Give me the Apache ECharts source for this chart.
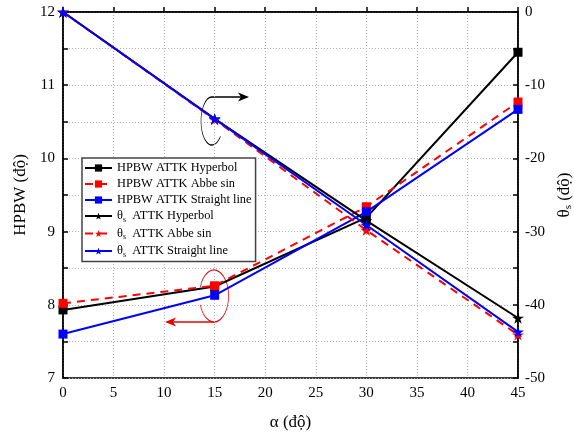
<!DOCTYPE html>
<html>
<head>
<meta charset="utf-8">
<script src="https://cdn.jsdelivr.net/npm/echarts@6/dist/echarts.min.js"></script>
<style>
  html, body { margin: 0; padding: 0; background: #fff; }
  #chart { width: 574px; height: 438px; }
</style>
</head>
<body>
<div id="chart"></div>
<script>
// góc alpha (độ)
var alpha = [0, 15, 30, 45];
// HPBW (trục trái)
var hpbwHyperbol = [7.93, 8.25, 9.19, 11.45];
var hpbwAbbe = [8.02, 8.26, 9.34, 10.77];
var hpbwStraight = [7.6, 8.13, 9.27, 10.67];
// theta_s (trục phải)
var thetaHyperbol = [0, -14.6, -28.5, -41.8];
var thetaAbbe = [0, -14.7, -29.8, -44.1];
var thetaStraight = [0, -14.6, -29.1, -43.7];

var legendNames = {
  'hH': 'HPBW ATTK Hyperbol',
  'hA': 'HPBW ATTK Abbe sin',
  'hS': 'HPBW ATTK Straight line',
  'tH': '{th|θ}{sub|s}{th|  ATTK Hyperbol}',
  'tA': '{th|θ}{sub|s}{th|  ATTK Abbe sin}',
  'tS': '{th|θ}{sub|s}{th|  ATTK Straight line}'
};

var star = 'path://M0,-1L0.223,-0.307L0.951,-0.309L0.361,0.117L0.588,0.809L0,0.38L-0.588,0.809L-0.361,0.117L-0.951,-0.309L-0.223,-0.307Z';
var font = 'Liberation Serif';

function pairs(ys) {
  var out = [];
  for (var i = 0; i < alpha.length; i++) out.push([alpha[i], ys[i]]);
  return out;
}

function mk(name, ys, color, dashed, symbol, yIdx) {
  return {
    name: name,
    type: 'line',
    yAxisIndex: yIdx,
    data: pairs(ys),
    symbol: symbol,
    symbolSize: symbol === 'rect' ? 9 : 12,
    symbolKeepAspect: true,
    showSymbol: true,
    lineStyle: { color: color, width: 2, type: dashed ? [8, 6] : 'solid' },
    itemStyle: { color: color },
    emphasis: { disabled: true },
    animation: false
  };
}

var myChart = echarts.init(document.getElementById('chart'));

var splitDotted = { show: true, lineStyle: { color: '#b0b0b0', type: [1, 2], width: 1 } };

var option = {
  backgroundColor: '#fff',
  animation: false,
  grid: {
    left: 63, right: 56, top: 12, bottom: 60,
    outerBoundsMode: 'none',
    show: true, borderColor: '#000', borderWidth: 1.5, backgroundColor: 'transparent'
  },
  legend: {
    orient: 'vertical',
    left: 82, top: 158,
    padding: [4, 4, 3, 2],
    itemGap: 4,
    itemWidth: 27, itemHeight: 9,
    borderColor: '#444', borderWidth: 1.5,
    backgroundColor: '#fff',
    data: ['hH', 'hA', 'hS', 'tH', 'tA', 'tS'],
    formatter: function (n) { return legendNames[n]; },
    textStyle: {
      fontFamily: font, fontSize: 12.4, color: '#000',
      rich: {
        th: { fontFamily: font, fontSize: 12.4, color: '#000' },
        sub: { fontFamily: font, fontSize: 8, color: '#000', padding: [7, 0, 0, 0] }
      }
    }
  },
  xAxis: {
    type: 'value',
    min: 0, max: 45, interval: 5,
    name: 'α (độ)', nameLocation: 'middle', nameGap: 36,
    nameTextStyle: { fontFamily: font, fontSize: 17, color: '#000' },
    axisLine: { lineStyle: { color: '#000', width: 1.5 } },
    axisTick: { inside: true, length: 5, lineStyle: { color: '#000', width: 1.5 } },
    axisLabel: { fontFamily: font, fontSize: 15, color: '#000', margin: 8 },
    splitLine: splitDotted
  },
  yAxis: [{
    type: 'value',
    min: 7, max: 12, interval: 1,
    name: 'HPBW (độ)', nameLocation: 'middle', nameGap: 28,
    nameTextStyle: { fontFamily: font, fontSize: 17, color: '#000' },
    axisLine: { show: true, lineStyle: { color: '#000', width: 1.5 } },
    axisTick: { inside: true, length: 5, lineStyle: { color: '#000', width: 1.5 } },
    minorTick: { show: true, splitNumber: 2, length: 5, lineStyle: { color: '#000', width: 1.5 } },
    axisLabel: { fontFamily: font, fontSize: 15, color: '#000', margin: 8 },
    splitLine: splitDotted,
    minorSplitLine: splitDotted
  }, {
    type: 'value',
    position: 'right',
    min: -50, max: 0, interval: 10,
    name: '{th|θ}{sub|s}{th| (độ)}', nameLocation: 'middle', nameGap: 34, nameRotate: 90,
    nameTextStyle: {
      fontFamily: font, fontSize: 17, color: '#000',
      rich: {
        th: { fontFamily: font, fontSize: 17, color: '#000' },
        sub: { fontFamily: font, fontSize: 11, color: '#000', padding: [8, 0, 0, 0] }
      }
    },
    axisLine: { show: true, lineStyle: { color: '#000', width: 1.5 } },
    axisTick: { inside: true, length: 5, lineStyle: { color: '#000', width: 1.5 } },
    minorTick: { show: true, splitNumber: 2, length: 5, lineStyle: { color: '#000', width: 1.5 } },
    axisLabel: { fontFamily: font, fontSize: 15, color: '#000', margin: 7 },
    splitLine: { show: false }
  }],
  graphic: [
    // mũi tên đen chỉ sang trục phải
    { type: 'arc', x: 212, y: 121, scaleX: 0.46, silent: true,
      shape: { cx: 0, cy: 0, r: 24, startAngle: 40 * Math.PI / 180, endAngle: 272 * Math.PI / 180, clockwise: true },
      style: { stroke: '#000', lineWidth: 1.3, fill: null, strokeNoScale: true } },
    { type: 'line', silent: true, shape: { x1: 212, y1: 97, x2: 246, y2: 97 },
      style: { stroke: '#000', lineWidth: 1.3 } },
    { type: 'polygon', silent: true, shape: { points: [[249, 97], [238, 92.5], [241, 97], [238, 101.5]] },
      style: { fill: '#000' } },
    // mũi tên đỏ chỉ sang trục trái
    { type: 'arc', x: 214, y: 296, scaleX: 0.56, silent: true,
      shape: { cx: 0, cy: 0, r: 26, startAngle: 200 * Math.PI / 180, endAngle: 520 * Math.PI / 180, clockwise: true },
      style: { stroke: '#e00', lineWidth: 1.3, fill: null, strokeNoScale: true } },
    { type: 'line', silent: true, shape: { x1: 214, y1: 322, x2: 168, y2: 322 },
      style: { stroke: '#e00', lineWidth: 1.3 } },
    { type: 'polygon', silent: true, shape: { points: [[165, 322], [176, 317.5], [173, 322], [176, 326.5]] },
      style: { fill: '#e00' } }
  ],
  series: [
    mk('hH', hpbwHyperbol, '#000', false, 'rect', 0),
    mk('hA', hpbwAbbe, '#f00', true, 'rect', 0),
    mk('hS', hpbwStraight, '#00f', false, 'rect', 0),
    mk('tH', thetaHyperbol, '#000', false, star, 1),
    mk('tA', thetaAbbe, '#f00', true, star, 1),
    mk('tS', thetaStraight, '#00f', false, star, 1)
  ]
};

myChart.setOption(option);
</script>
</body>
</html>
